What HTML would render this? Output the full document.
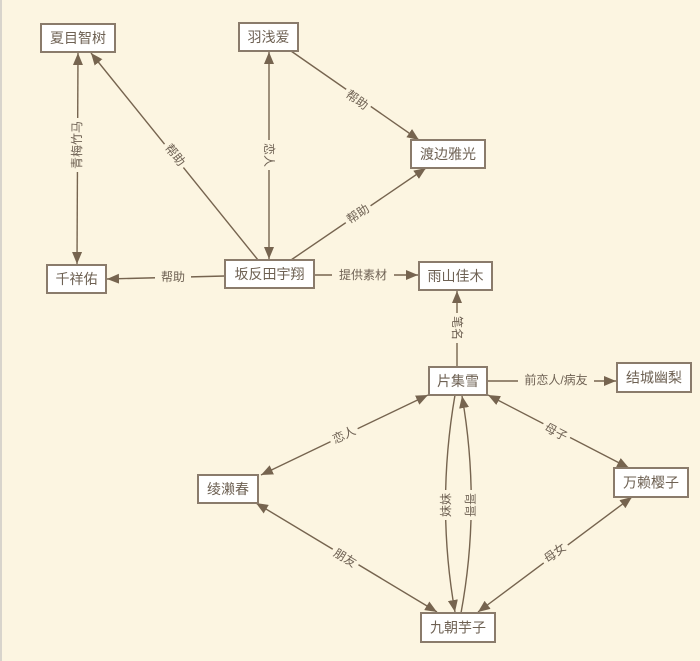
<!DOCTYPE html>
<html><head><meta charset="utf-8"><style>
html,body{margin:0;padding:0;background:#fcf5e1;}
svg{display:block;}
text{font-family:"Liberation Sans","Noto Sans CJK SC",sans-serif;fill:#6e6153;}
</style></head><body>
<svg width="700" height="661" viewBox="0 0 700 661" xmlns="http://www.w3.org/2000/svg">
<defs>
<marker id="a" viewBox="0 0 12 10" refX="12" refY="5" markerWidth="12" markerHeight="10" markerUnits="userSpaceOnUse" orient="auto-start-reverse">
<path d="M0,0 L12,5 L0,10 z" fill="#76644f"/></marker>
</defs>
<rect width="700" height="661" fill="#fcf5e1"/>
<rect x="0" y="0" width="2" height="661" fill="#d8d4cc"/>
<g stroke="#76644f" stroke-width="1.4" fill="none">
<line x1="78" y1="53" x2="77" y2="264" marker-start="url(#a)" marker-end="url(#a)"/>
<line x1="258" y1="260" x2="91" y2="53" marker-end="url(#a)"/>
<line x1="269" y1="52" x2="269" y2="259" marker-start="url(#a)" marker-end="url(#a)"/>
<line x1="291" y1="51" x2="419" y2="140" marker-end="url(#a)"/>
<line x1="291" y1="260" x2="426" y2="168" marker-end="url(#a)"/>
<line x1="225" y1="276" x2="107" y2="279" marker-end="url(#a)"/>
<line x1="314" y1="275" x2="418" y2="275" marker-end="url(#a)"/>
<line x1="457" y1="367" x2="457" y2="291" marker-end="url(#a)"/>
<line x1="487" y1="381" x2="616" y2="381" marker-end="url(#a)"/>
<line x1="428" y1="395" x2="261" y2="475" marker-start="url(#a)" marker-end="url(#a)"/>
<line x1="488" y1="395" x2="629" y2="468" marker-start="url(#a)" marker-end="url(#a)"/>
<line x1="256" y1="503" x2="437" y2="612" marker-start="url(#a)" marker-end="url(#a)"/>
<line x1="632" y1="497" x2="478" y2="612" marker-start="url(#a)" marker-end="url(#a)"/>
<path d="M455,395 Q436,505 455,612" marker-end="url(#a)"/>
<path d="M461,613 Q481,505 462,396" marker-end="url(#a)"/>
</g>
<g font-size="12" text-anchor="middle" dominant-baseline="central">
<g transform="translate(77,145) rotate(-90)"><rect x="-27" y="-8" width="54" height="16" fill="#fcf5e1"/><text>青梅竹马</text></g>
<g transform="translate(175,155) rotate(51)"><rect x="-15" y="-8" width="30" height="16" fill="#fcf5e1"/><text>帮助</text></g>
<g transform="translate(269,155) rotate(90)"><rect x="-15" y="-8" width="30" height="16" fill="#fcf5e1"/><text>恋人</text></g>
<g transform="translate(357,100) rotate(35)"><rect x="-15" y="-8" width="30" height="16" fill="#fcf5e1"/><text>帮助</text></g>
<g transform="translate(358,214) rotate(-34)"><rect x="-15" y="-8" width="30" height="16" fill="#fcf5e1"/><text>帮助</text></g>
<g transform="translate(173,277)"><rect x="-18" y="-8" width="36" height="16" fill="#fcf5e1"/><text>帮助</text></g>
<g transform="translate(363,275)"><rect x="-31" y="-8" width="62" height="16" fill="#fcf5e1"/><text>提供素材</text></g>
<g transform="translate(457,328) rotate(90)"><rect x="-15" y="-8" width="30" height="16" fill="#fcf5e1"/><text>笔名</text></g>
<g transform="translate(556,380)"><rect x="-38" y="-8" width="76" height="16" fill="#fcf5e1"/><text>前恋人/病友</text></g>
<g transform="translate(344,435) rotate(-25)"><rect x="-15" y="-8" width="30" height="16" fill="#fcf5e1"/><text>恋人</text></g>
<g transform="translate(556,432) rotate(27)"><rect x="-15" y="-8" width="30" height="16" fill="#fcf5e1"/><text>母子</text></g>
<g transform="translate(345,558) rotate(31)"><rect x="-15" y="-8" width="30" height="16" fill="#fcf5e1"/><text>朋友</text></g>
<g transform="translate(555,553) rotate(-37)"><rect x="-15" y="-8" width="30" height="16" fill="#fcf5e1"/><text>母女</text></g>
<g transform="translate(446,505) rotate(-90)"><rect x="-15" y="-8" width="30" height="16" fill="#fcf5e1"/><text>妹妹</text></g>
<g transform="translate(470,505) rotate(90)"><rect x="-15" y="-8" width="30" height="16" fill="#fcf5e1"/><text>哥哥</text></g>
</g>
<g stroke="#8a7b6b" stroke-width="2" fill="#ffffff">
<rect x="41" y="24" width="74" height="28"/>
<rect x="239" y="23" width="59" height="28"/>
<rect x="411" y="140" width="74" height="28"/>
<rect x="47" y="265" width="59" height="28"/>
<rect x="225" y="260" width="89" height="28"/>
<rect x="419" y="262" width="73" height="28"/>
<rect x="429" y="367" width="58" height="28"/>
<rect x="617" y="363" width="74" height="29"/>
<rect x="198" y="475" width="60" height="28"/>
<rect x="614" y="468" width="74" height="29"/>
<rect x="421" y="613" width="74" height="29"/>
</g>
<g font-size="14" text-anchor="middle" dominant-baseline="central" style="fill:#5a4e42">
<text x="78" y="38">夏目智树</text>
<text x="268.5" y="37">羽浅爱</text>
<text x="448" y="154">渡边雅光</text>
<text x="76.5" y="279">千祥佑</text>
<text x="269.5" y="274">坂反田宇翔</text>
<text x="455.5" y="276">雨山佳木</text>
<text x="458" y="381">片集雪</text>
<text x="654" y="377.5">结城幽梨</text>
<text x="228" y="489">绫濑春</text>
<text x="651" y="482.5">万赖樱子</text>
<text x="458" y="627.5">九朝芋子</text>
</g>
</svg>
</body></html>
